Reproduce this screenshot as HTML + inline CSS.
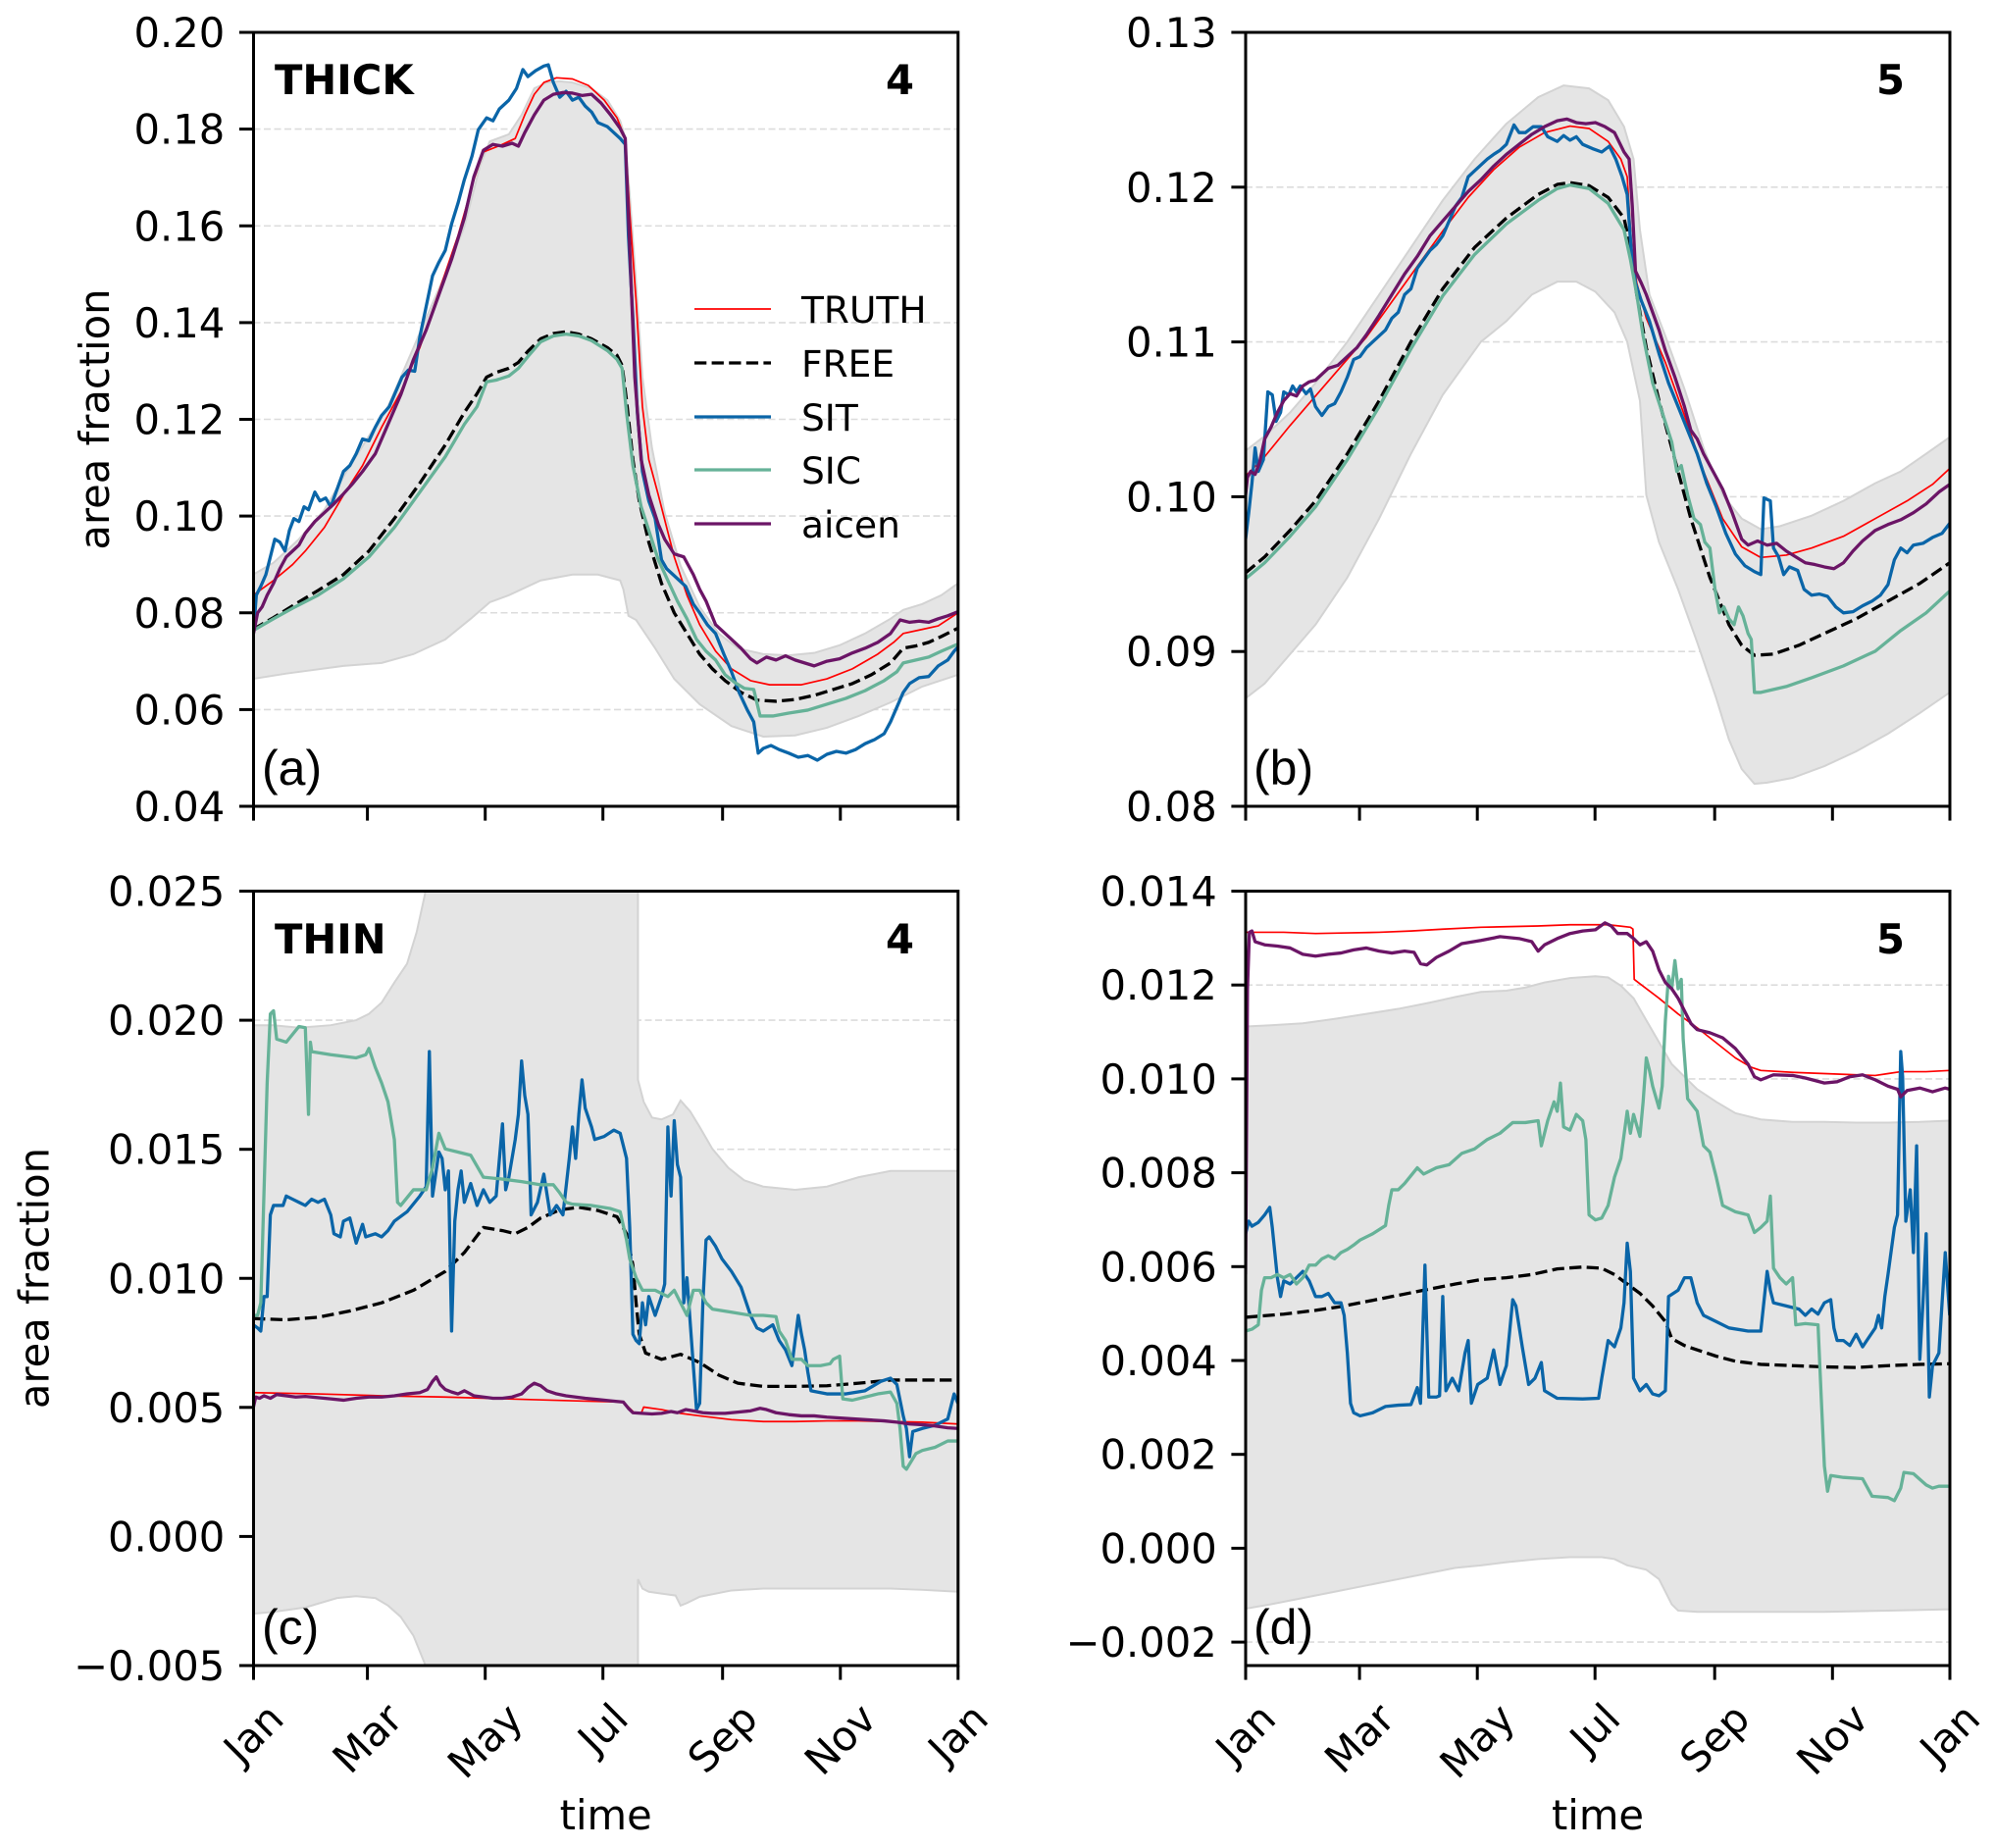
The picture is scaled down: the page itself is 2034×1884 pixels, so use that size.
<!DOCTYPE html>
<html><head><meta charset="utf-8"><style>
html,body{margin:0;padding:0;background:#fff;overflow:hidden}
svg{display:block}
text{font-family:"DejaVu Sans","Liberation Sans",sans-serif;font-size:41.67px;fill:#000}
.b{font-weight:bold}
.pl{font-family:"Liberation Sans","DejaVu Sans",sans-serif;font-size:50px}
.lg{font-size:37.5px}
.band{fill:#e5e5e5;stroke:#d3d3d3;stroke-width:2;vector-effect:non-scaling-stroke}
.ln{fill:none;stroke-linejoin:round;stroke-linecap:butt;vector-effect:non-scaling-stroke}
.tr{stroke:#ff0000;stroke-width:1.7}
.fr{stroke:#000;stroke-width:3.3;stroke-dasharray:12.3 5.3}
.sit{stroke:#0a65a8;stroke-width:3.3}
.sic{stroke:#66b298;stroke-width:3.3}
.ai{stroke:#6b1566;stroke-width:3.3}
.grid{stroke:#dcdcdc;stroke-width:1.6;stroke-dasharray:7 3.5}
.ax{fill:none;stroke:#000;stroke-width:3}
.tk{stroke:#000;stroke-width:3}
</style></head><body>
<svg width="2034" height="1884" viewBox="0 0 2034 1884" xmlns="http://www.w3.org/2000/svg">
<defs>
<clipPath id="ca"><rect x="258.5" y="33" width="718.3" height="789"/></clipPath>
<clipPath id="cb"><rect x="1270" y="33" width="718" height="789"/></clipPath>
<clipPath id="cc"><rect x="258.5" y="908.5" width="718.3" height="789.5"/></clipPath>
<clipPath id="cd"><rect x="1270" y="908.5" width="718" height="789.5"/></clipPath>
</defs>

<!-- ================= PANEL A ================= -->
<g class="grid">
<line x1="258.5" x2="976.8" y1="131.6" y2="131.6"/><line x1="258.5" x2="976.8" y1="230.25" y2="230.25"/>
<line x1="258.5" x2="976.8" y1="328.9" y2="328.9"/><line x1="258.5" x2="976.8" y1="427.5" y2="427.5"/>
<line x1="258.5" x2="976.8" y1="526.1" y2="526.1"/><line x1="258.5" x2="976.8" y1="624.75" y2="624.75"/>
<line x1="258.5" x2="976.8" y1="723.4" y2="723.4"/>
</g>
<g clip-path="url(#ca)"><g transform="scale(0.648508,0.600781)">
<polygon class="band" points="398,975 430,955 470,915 510,865 545,800 580,740 610,690 640,615 670,540 700,465 730,385 755,280 770,240 800,228 820,195 840,150 860,140 880,138 900,140 930,150 955,170 975,205 982,230 990,330 1000,480 1010,640 1025,760 1045,870 1070,960 1100,1030 1130,1075 1160,1100 1200,1110 1240,1112 1280,1108 1320,1095 1360,1075 1400,1050 1420,1035 1450,1025 1480,1010 1506,990 1506,1145 1450,1165 1400,1192 1350,1215 1300,1235 1250,1248 1200,1250 1150,1232 1100,1195 1060,1152 1030,1100 1000,1052 988,1045 980,1000 975,985 940,975 900,975 850,985 800,1010 770,1022 740,1050 700,1085 650,1110 600,1125 540,1130 450,1143 398,1152"/>
<polyline class="ln tr" points="398,1010 430,985 460,958 480,935 510,895 540,840 570,790 600,725 630,665 660,590 690,495 720,400 745,305 760,258 790,245 810,235 825,195 840,160 855,140 875,132 900,134 925,145 950,170 970,200 983,235 990,360 1000,510 1010,690 1020,780 1035,840 1060,945 1080,1010 1100,1060 1125,1105 1150,1135 1180,1155 1210,1162 1260,1162 1300,1152 1340,1135 1380,1110 1405,1090 1420,1075 1450,1068 1475,1062 1506,1040"/>
<polyline class="ln fr" points="398,1068 430,1048 460,1028 500,1002 540,975 580,935 620,880 660,820 700,755 730,700 750,668 765,640 780,632 800,625 815,615 830,596 850,575 870,566 890,563 910,567 930,575 955,590 970,603 978,620 985,680 995,780 1005,850 1020,920 1040,990 1060,1040 1080,1075 1100,1110 1120,1135 1140,1155 1165,1175 1190,1188 1220,1190 1250,1187 1280,1180 1310,1170 1340,1160 1370,1145 1400,1125 1420,1100 1440,1096 1460,1090 1480,1080 1506,1066"/>
<polyline class="ln sit" points="398,1080 403,1010 410,995 418,975 425,945 432,915 440,920 448,935 455,900 462,880 470,885 478,860 485,865 495,835 503,850 512,845 520,860 530,830 540,800 550,790 560,770 570,745 580,748 590,725 600,705 612,690 622,665 632,640 642,628 652,630 660,572 670,520 680,468 690,445 700,425 710,380 720,345 730,305 742,265 752,220 765,200 775,205 785,185 800,170 812,150 822,118 830,130 842,120 855,112 862,110 870,140 880,165 890,155 900,170 910,165 920,180 930,190 940,208 955,215 965,225 975,235 983,245 988,400 995,540 1002,700 1010,800 1020,850 1030,880 1040,950 1048,965 1058,975 1068,985 1078,995 1090,1025 1100,1040 1112,1060 1125,1075 1138,1110 1150,1140 1162,1175 1175,1205 1185,1225 1192,1278 1200,1270 1212,1265 1225,1272 1240,1278 1255,1285 1270,1282 1285,1290 1300,1280 1315,1275 1330,1278 1345,1272 1360,1262 1375,1255 1390,1245 1400,1225 1410,1200 1420,1175 1430,1160 1445,1150 1460,1148 1475,1130 1490,1120 1500,1105 1506,1098"/>
<polyline class="ln sic" points="398,1070 430,1050 460,1032 500,1010 540,982 580,945 620,895 660,835 700,775 730,720 750,690 765,648 780,645 800,638 815,625 830,605 850,580 870,570 890,567 910,570 930,578 955,595 970,610 978,625 985,700 995,790 1008,860 1020,900 1035,950 1050,985 1065,1020 1080,1050 1095,1085 1110,1105 1125,1120 1140,1145 1155,1158 1170,1168 1185,1170 1195,1215 1215,1215 1240,1210 1270,1205 1300,1195 1330,1185 1360,1172 1390,1155 1410,1140 1420,1125 1440,1120 1460,1115 1480,1105 1506,1093"/>
<polyline class="ln ai" points="398,1078 405,1040 412,1030 420,1010 430,990 440,965 450,945 460,935 470,925 480,905 495,885 510,870 525,855 540,838 555,820 570,800 590,770 610,720 630,670 650,610 670,560 690,500 710,440 730,370 745,300 760,255 775,245 790,248 805,243 815,248 825,225 840,195 855,170 870,160 885,157 900,158 915,162 930,160 945,175 960,195 975,218 983,235 990,420 998,640 1008,780 1020,840 1035,890 1045,915 1060,940 1075,945 1090,975 1100,1000 1110,1020 1125,1060 1140,1075 1150,1085 1165,1100 1180,1118 1190,1125 1205,1115 1220,1120 1235,1113 1250,1120 1265,1125 1280,1130 1300,1122 1320,1118 1340,1108 1360,1100 1380,1090 1400,1075 1415,1052 1430,1056 1445,1054 1460,1056 1475,1050 1490,1045 1506,1038"/>
</g></g>
<rect class="ax" x="258.5" y="33" width="718.3" height="789"/>
<g class="tk">
<line x1="243.9" x2="258.5" y1="33" y2="33"/><line x1="243.9" x2="258.5" y1="131.6" y2="131.6"/><line x1="243.9" x2="258.5" y1="230.25" y2="230.25"/><line x1="243.9" x2="258.5" y1="328.9" y2="328.9"/><line x1="243.9" x2="258.5" y1="427.5" y2="427.5"/><line x1="243.9" x2="258.5" y1="526.1" y2="526.1"/><line x1="243.9" x2="258.5" y1="624.75" y2="624.75"/><line x1="243.9" x2="258.5" y1="723.4" y2="723.4"/><line x1="243.9" x2="258.5" y1="822" y2="822"/>
<line x1="258.5" x2="258.5" y1="822" y2="836.6"/><line x1="374.6" x2="374.6" y1="822" y2="836.6"/><line x1="494.7" x2="494.7" y1="822" y2="836.6"/><line x1="614.7" x2="614.7" y1="822" y2="836.6"/><line x1="736.7" x2="736.7" y1="822" y2="836.6"/><line x1="856.8" x2="856.8" y1="822" y2="836.6"/><line x1="976.8" x2="976.8" y1="822" y2="836.6"/>
</g>
<g text-anchor="end">
<text x="229.3" y="48">0.20</text><text x="229.3" y="146.6">0.18</text><text x="229.3" y="245.3">0.16</text><text x="229.3" y="343.9">0.14</text><text x="229.3" y="442.5">0.12</text><text x="229.3" y="541.1">0.10</text><text x="229.3" y="639.8">0.08</text><text x="229.3" y="738.4">0.06</text><text x="229.3" y="837">0.04</text>
</g>
<text transform="translate(111,427.5) rotate(-90)" text-anchor="middle">area fraction</text>
<text class="b" x="280" y="96">THICK</text>
<text class="b" x="932" y="96" text-anchor="end">4</text>
<text class="pl" x="267" y="800">(a)</text>
<!-- legend -->
<line x1="708" x2="786" y1="315" y2="315" stroke="#ff0000" stroke-width="1.7"/>
<line x1="708" x2="786" y1="370" y2="370" stroke="#000" stroke-width="3.3" stroke-dasharray="12.3 5.3"/>
<line x1="708" x2="786" y1="425" y2="425" stroke="#0a65a8" stroke-width="3.3"/>
<line x1="708" x2="786" y1="479" y2="479" stroke="#66b298" stroke-width="3.3"/>
<line x1="708" x2="786" y1="534" y2="534" stroke="#6b1566" stroke-width="3.3"/>
<g class="lg"><text class="lg" x="817" y="329">TRUTH</text><text class="lg" x="817" y="384">FREE</text><text class="lg" x="817" y="439">SIT</text><text class="lg" x="817" y="493">SIC</text><text class="lg" x="817" y="548">aicen</text></g>

<!-- ================= PANEL B ================= -->
<g class="grid">
<line x1="1270" x2="1988" y1="190.8" y2="190.8"/><line x1="1270" x2="1988" y1="348.6" y2="348.6"/><line x1="1270" x2="1988" y1="506.4" y2="506.4"/><line x1="1270" x2="1988" y1="664.2" y2="664.2"/>
</g>
<g clip-path="url(#cb)"><g transform="translate(1017,0) scale(0.648508,0.600781)">
<polygon class="band" points="390,765 420,740 460,700 500,650 550,580 600,500 650,420 700,340 750,270 800,210 850,165 890,145 930,150 960,170 985,215 1000,270 1010,390 1025,500 1050,570 1080,660 1110,760 1140,840 1170,880 1200,898 1230,893 1280,875 1330,850 1380,820 1420,800 1460,770 1497,742 1497,1175 1450,1210 1400,1245 1350,1275 1300,1300 1250,1320 1210,1328 1190,1330 1170,1305 1150,1255 1130,1185 1100,1090 1070,1000 1040,920 1020,840 1010,680 990,580 970,530 940,495 910,478 880,478 840,500 800,545 760,580 700,670 650,770 600,880 550,980 500,1060 460,1110 420,1160 390,1185"/>
<polyline class="ln tr" points="390,808 420,775 460,722 500,672 540,622 580,572 620,512 660,452 700,392 740,335 780,288 820,250 860,225 900,214 930,218 960,240 980,270 990,300 997,420 1005,480 1020,540 1050,615 1080,705 1110,800 1140,880 1170,928 1200,946 1240,942 1280,930 1330,910 1380,880 1430,850 1470,822 1497,795"/>
<polyline class="ln fr" points="390,972 420,945 460,900 500,850 550,770 600,680 650,580 700,490 750,420 800,370 850,330 880,313 900,310 930,315 960,335 985,370 995,420 1005,500 1020,590 1040,680 1060,760 1090,880 1120,980 1150,1060 1170,1095 1190,1112 1220,1110 1260,1095 1300,1075 1350,1050 1400,1020 1450,990 1497,955"/>
<polyline class="ln sit" points="390,915 395,870 400,820 405,760 410,800 418,780 425,665 432,670 438,715 445,700 450,665 458,670 464,655 470,665 476,655 485,668 492,660 500,690 510,705 520,690 530,685 540,665 550,640 560,610 570,605 580,590 590,580 600,570 610,560 620,540 630,530 640,500 650,490 660,455 670,440 680,425 690,415 700,400 710,375 720,350 730,335 740,300 750,290 760,280 770,270 780,262 790,255 800,245 812,212 820,225 830,225 842,215 855,215 865,232 880,240 890,230 900,238 910,232 920,245 935,252 950,258 962,248 972,270 982,300 990,330 996,420 1003,480 1012,510 1025,545 1040,600 1055,650 1070,690 1085,730 1100,770 1115,820 1130,860 1145,905 1160,940 1175,960 1190,970 1200,975 1205,845 1215,850 1220,930 1228,945 1236,975 1245,962 1258,968 1268,1000 1280,1010 1292,1008 1305,1012 1318,1030 1330,1040 1345,1038 1360,1028 1375,1020 1388,1010 1400,992 1410,950 1420,930 1430,938 1440,925 1455,922 1470,912 1485,905 1497,888"/>
<polyline class="ln sic" points="390,982 420,955 460,910 500,860 550,780 600,690 650,592 700,502 750,432 800,380 850,340 880,320 900,314 930,320 960,345 985,390 995,440 1005,500 1015,570 1030,650 1045,700 1060,750 1068,800 1075,790 1085,840 1095,880 1105,890 1112,920 1120,930 1128,1000 1135,1040 1142,1030 1150,1050 1158,1060 1165,1030 1172,1045 1180,1075 1185,1085 1190,1175 1200,1175 1240,1165 1280,1150 1330,1130 1380,1105 1420,1070 1460,1040 1497,1003"/>
<polyline class="ln ai" points="390,840 393,810 398,800 405,805 412,785 420,745 430,725 440,700 450,680 460,668 470,672 480,655 490,648 500,645 510,635 520,625 535,620 550,605 565,590 580,568 600,535 620,500 640,465 660,435 680,400 700,375 720,350 740,325 760,305 780,282 800,262 820,245 840,228 860,215 880,205 895,202 910,208 925,210 940,208 955,215 970,225 985,258 993,270 998,350 1003,460 1012,480 1020,500 1030,530 1040,560 1050,595 1065,640 1080,690 1090,730 1100,745 1110,770 1125,800 1140,830 1155,870 1170,915 1180,925 1195,918 1210,925 1225,922 1240,935 1255,945 1270,955 1285,958 1300,962 1315,965 1330,955 1345,935 1360,918 1380,900 1400,890 1420,882 1440,870 1460,855 1480,835 1497,822"/>
</g></g>
<rect class="ax" x="1270" y="33" width="718" height="789"/>
<g class="tk">
<line x1="1255.4" x2="1270" y1="33" y2="33"/><line x1="1255.4" x2="1270" y1="190.8" y2="190.8"/><line x1="1255.4" x2="1270" y1="348.6" y2="348.6"/><line x1="1255.4" x2="1270" y1="506.4" y2="506.4"/><line x1="1255.4" x2="1270" y1="664.2" y2="664.2"/><line x1="1255.4" x2="1270" y1="822" y2="822"/>
<line x1="1270" x2="1270" y1="822" y2="836.6"/><line x1="1386.1" x2="1386.1" y1="822" y2="836.6"/><line x1="1506.2" x2="1506.2" y1="822" y2="836.6"/><line x1="1626.2" x2="1626.2" y1="822" y2="836.6"/><line x1="1748.2" x2="1748.2" y1="822" y2="836.6"/><line x1="1868.3" x2="1868.3" y1="822" y2="836.6"/><line x1="1988" x2="1988" y1="822" y2="836.6"/>
</g>
<g text-anchor="end">
<text x="1240.8" y="48">0.13</text><text x="1240.8" y="205.8">0.12</text><text x="1240.8" y="363.6">0.11</text><text x="1240.8" y="521.4">0.10</text><text x="1240.8" y="679.2">0.09</text><text x="1240.8" y="837">0.08</text>
</g>
<text class="b" x="1942" y="96" text-anchor="end">5</text>
<text class="pl" x="1278" y="800">(b)</text>

<!-- ================= PANEL C ================= -->
<g class="grid">
<line x1="258.5" x2="976.8" y1="1040.1" y2="1040.1"/><line x1="258.5" x2="976.8" y1="1171.7" y2="1171.7"/><line x1="258.5" x2="976.8" y1="1303.25" y2="1303.25"/><line x1="258.5" x2="976.8" y1="1434.8" y2="1434.8"/><line x1="258.5" x2="976.8" y1="1566.4" y2="1566.4"/>
</g>
<g clip-path="url(#cc)"><g transform="translate(0,880) scale(0.648508,0.640287)">
<polygon class="band" points="398,258 430,258 470,262 520,258 560,250 580,240 600,222 620,190 640,160 655,110 668,50 675,-50 1003,-50 1003,345 1012,380 1025,405 1040,408 1058,400 1070,378 1085,395 1100,420 1120,455 1145,485 1170,505 1200,515 1250,520 1300,515 1350,500 1400,490 1450,490 1506,490 1506,1160 1450,1157 1400,1155 1300,1155 1200,1155 1150,1158 1100,1168 1080,1178 1070,1182 1062,1166 1040,1163 1020,1160 1010,1155 1003,1140 1003,1350 675,1350 668,1275 650,1230 630,1200 610,1182 590,1170 560,1167 530,1170 480,1185 430,1192 398,1195"/>
<polyline class="ln tr" points="398,843 500,845 600,848 700,850 800,853 900,856 980,858 988,866 998,876 1008,876 1012,866 1040,870 1070,876 1100,880 1150,886 1200,889 1250,889 1300,888 1350,888 1400,889 1450,890 1506,893"/>
<polyline class="ln fr" points="398,725 450,727 500,723 550,713 600,700 650,680 700,650 730,620 760,580 790,585 810,590 830,580 850,565 880,552 910,548 940,553 970,563 985,590 995,640 1000,700 1005,750 1015,780 1040,790 1070,782 1100,795 1130,815 1160,828 1200,833 1250,833 1300,832 1350,828 1400,823 1450,823 1506,823"/>
<polyline class="ln sit" points="398,735 405,740 410,745 415,690 420,690 425,560 430,545 445,545 450,530 460,535 470,540 480,545 490,535 500,540 510,535 520,560 525,590 535,595 540,570 550,565 560,605 570,575 575,595 590,590 600,595 610,585 620,570 640,555 660,530 670,515 675,300 680,530 690,460 695,470 700,520 705,490 710,745 715,570 720,520 725,490 730,540 740,510 750,545 760,520 770,540 780,530 790,415 795,520 800,500 810,440 815,400 820,315 825,370 830,400 835,560 845,540 855,495 865,560 875,545 885,560 895,470 900,420 905,470 910,400 915,345 920,390 930,420 935,440 950,435 965,425 975,430 985,470 990,580 995,750 1000,760 1005,765 1010,700 1015,735 1020,690 1030,720 1040,690 1045,670 1050,420 1055,530 1060,410 1065,480 1070,500 1075,700 1080,660 1090,800 1095,870 1100,860 1105,700 1110,600 1115,595 1125,610 1135,630 1150,650 1165,675 1170,690 1180,720 1190,740 1200,745 1215,735 1225,760 1235,775 1245,800 1255,720 1260,750 1265,775 1270,810 1275,840 1300,845 1330,845 1360,840 1385,825 1400,820 1410,830 1420,880 1425,900 1430,945 1435,905 1450,900 1470,895 1490,885 1500,845 1506,860"/>
<polyline class="ln sic" points="398,720 405,720 410,700 420,350 425,240 430,235 435,280 450,285 470,260 480,262 485,400 488,285 490,300 520,305 560,310 575,305 580,295 590,325 600,350 610,380 620,440 625,540 630,545 650,520 670,520 680,485 690,430 700,455 720,460 740,465 760,500 790,503 820,507 850,512 870,512 880,525 890,540 900,543 930,545 960,550 975,555 985,600 990,630 1000,660 1010,680 1030,680 1050,690 1060,680 1070,700 1080,720 1090,680 1100,680 1110,700 1120,710 1150,715 1180,720 1200,720 1220,722 1225,745 1235,760 1245,790 1260,790 1270,800 1290,800 1305,797 1310,790 1320,785 1325,853 1340,855 1360,850 1380,845 1400,842 1410,860 1415,900 1420,960 1425,965 1440,940 1450,935 1470,930 1490,920 1506,920"/>
<polyline class="ln ai" points="398,868 402,850 408,852 415,848 425,852 435,846 450,848 465,850 480,849 500,851 520,853 540,855 560,852 580,850 600,850 620,848 640,845 660,843 672,838 680,825 686,818 692,830 700,838 710,842 720,845 730,840 745,848 760,850 775,852 790,852 805,850 820,845 830,835 840,828 850,832 860,840 875,845 890,848 905,850 920,852 940,854 960,856 980,858 988,868 995,875 1010,876 1025,877 1040,876 1055,873 1065,875 1078,870 1090,872 1105,875 1120,876 1140,876 1160,874 1180,872 1195,868 1205,870 1220,875 1240,878 1260,880 1280,880 1300,882 1330,884 1360,886 1390,888 1410,890 1430,893 1450,894 1470,896 1490,899 1506,900"/>
</g></g>
<rect class="ax" x="258.5" y="908.5" width="718.3" height="789.5"/>
<g class="tk">
<line x1="243.9" x2="258.5" y1="908.5" y2="908.5"/><line x1="243.9" x2="258.5" y1="1040.1" y2="1040.1"/><line x1="243.9" x2="258.5" y1="1171.7" y2="1171.7"/><line x1="243.9" x2="258.5" y1="1303.25" y2="1303.25"/><line x1="243.9" x2="258.5" y1="1434.8" y2="1434.8"/><line x1="243.9" x2="258.5" y1="1566.4" y2="1566.4"/><line x1="243.9" x2="258.5" y1="1698" y2="1698"/>
<line x1="258.5" x2="258.5" y1="1698" y2="1712.6"/><line x1="374.6" x2="374.6" y1="1698" y2="1712.6"/><line x1="494.7" x2="494.7" y1="1698" y2="1712.6"/><line x1="614.7" x2="614.7" y1="1698" y2="1712.6"/><line x1="736.7" x2="736.7" y1="1698" y2="1712.6"/><line x1="856.8" x2="856.8" y1="1698" y2="1712.6"/><line x1="976.8" x2="976.8" y1="1698" y2="1712.6"/>
</g>
<g text-anchor="end">
<text x="229.3" y="923.5">0.025</text><text x="229.3" y="1055.1">0.020</text><text x="229.3" y="1186.7">0.015</text><text x="229.3" y="1318.3">0.010</text><text x="229.3" y="1449.8">0.005</text><text x="229.3" y="1581.4">0.000</text><text x="229.3" y="1713">−0.005</text>
</g>
<g text-anchor="middle">
<text x="258.5" y="1767.1" dy="14.4" transform="rotate(-45 258.5 1767.1)">Jan</text>
<text x="374.6" y="1772.1" dy="14.4" transform="rotate(-45 374.6 1772.1)">Mar</text>
<text x="494.7" y="1774.8" dy="14.4" transform="rotate(-45 494.7 1774.8)">May</text>
<text x="614.7" y="1762.1" dy="14.4" transform="rotate(-45 614.7 1762.1)">Jul</text>
<text x="736.7" y="1772.1" dy="14.4" transform="rotate(-45 736.7 1772.1)">Sep</text>
<text x="856.8" y="1773.1" dy="14.4" transform="rotate(-45 856.8 1773.1)">Nov</text>
<text x="976.8" y="1767.1" dy="14.4" transform="rotate(-45 976.8 1767.1)">Jan</text>
<text x="617.7" y="1865">time</text>
</g>
<text transform="translate(49.5,1303) rotate(-90)" text-anchor="middle">area fraction</text>
<text class="b" x="280" y="972">THIN</text>
<text class="b" x="932" y="972" text-anchor="end">4</text>
<text class="pl" x="267" y="1676">(c)</text>

<!-- ================= PANEL D ================= -->
<g class="grid">
<line x1="1270" x2="1988" y1="1004.2" y2="1004.2"/><line x1="1270" x2="1988" y1="1099.9" y2="1099.9"/><line x1="1270" x2="1988" y1="1195.6" y2="1195.6"/><line x1="1270" x2="1988" y1="1291.3" y2="1291.3"/><line x1="1270" x2="1988" y1="1387" y2="1387"/><line x1="1270" x2="1988" y1="1482.7" y2="1482.7"/><line x1="1270" x2="1988" y1="1578.4" y2="1578.4"/><line x1="1270" x2="1988" y1="1674.1" y2="1674.1"/>
</g>
<g clip-path="url(#cd)"><g transform="translate(1017,880) scale(0.648508,0.640287)">
<polygon class="band" points="390,260 430,258 480,255 530,248 580,240 630,232 680,222 720,213 760,205 800,203 830,198 860,190 900,183 940,180 960,182 980,195 1000,215 1020,250 1040,285 1060,320 1080,340 1100,360 1130,380 1160,398 1200,408 1250,412 1300,412 1350,413 1400,413 1450,412 1497,410 1497,1188 1400,1190 1300,1192 1200,1192 1100,1192 1070,1190 1060,1180 1050,1160 1040,1140 1020,1125 990,1118 970,1108 950,1105 900,1105 850,1108 800,1113 760,1118 720,1122 680,1130 630,1140 580,1150 530,1160 480,1170 430,1180 390,1187"/>
<polyline class="ln tr" points="390,110 450,110 500,112 550,111 600,110 650,108 700,105 760,102 850,100 900,98 960,98 995,102 999,105 1001,185 1010,192 1040,215 1070,240 1100,262 1130,286 1160,310 1185,325 1200,330 1250,333 1300,335 1350,337 1380,338 1400,335 1420,332 1460,332 1497,330"/>
<polyline class="ln fr" points="390,723 450,718 500,712 540,706 580,698 620,690 680,678 720,670 760,663 800,660 840,655 880,646 920,643 950,645 970,655 990,670 1010,685 1030,705 1050,730 1060,757 1080,768 1100,775 1130,785 1160,793 1200,798 1250,800 1300,802 1350,803 1400,800 1450,798 1497,797"/>
<polyline class="ln sit" points="390,590 395,570 400,578 410,572 420,560 428,548 432,580 436,620 440,660 445,690 450,665 460,670 470,660 480,650 490,665 500,690 510,690 520,685 530,700 540,700 545,720 550,780 555,860 560,875 570,880 590,875 610,865 630,863 650,862 660,835 665,860 672,640 678,850 690,850 695,848 700,690 705,840 715,820 725,840 735,780 740,760 745,860 755,830 770,820 780,775 790,830 800,800 810,695 815,705 825,770 835,830 845,820 855,795 860,840 880,852 920,853 945,852 950,820 960,760 970,770 980,740 985,700 990,605 995,650 1000,820 1010,840 1020,830 1030,845 1040,848 1050,840 1055,690 1070,680 1080,660 1090,660 1100,700 1110,720 1130,730 1150,740 1180,745 1200,745 1210,650 1215,680 1220,700 1240,705 1260,710 1270,720 1280,710 1290,718 1300,700 1310,695 1315,740 1320,760 1330,760 1340,768 1350,750 1360,770 1380,740 1385,720 1390,740 1395,690 1400,655 1410,580 1415,560 1420,300 1423,340 1428,570 1435,520 1440,620 1445,450 1450,790 1455,700 1460,590 1465,850 1470,800 1480,780 1490,620 1497,720"/>
<polyline class="ln sic" points="390,745 400,742 410,735 415,680 420,660 430,660 440,655 450,660 460,655 470,670 480,660 490,640 500,640 510,630 520,625 530,630 540,620 550,615 560,608 570,600 590,590 610,577 615,545 620,520 630,520 640,510 660,485 670,495 690,485 710,480 730,462 750,455 770,440 790,430 810,413 830,413 850,410 855,450 865,410 875,380 880,395 885,350 890,420 900,425 910,400 920,410 925,440 930,560 940,568 950,565 960,545 970,500 980,470 990,395 995,430 1000,400 1010,435 1015,380 1020,310 1025,330 1030,355 1040,390 1045,355 1050,250 1055,180 1060,200 1065,155 1070,200 1075,185 1078,280 1085,375 1100,395 1110,450 1120,460 1130,500 1140,545 1160,555 1180,560 1190,588 1200,580 1210,570 1215,530 1220,645 1230,660 1240,670 1250,660 1255,735 1270,733 1290,735 1295,850 1300,960 1305,1000 1310,975 1330,978 1360,980 1375,1008 1400,1010 1410,1015 1420,995 1425,970 1440,972 1460,990 1470,995 1480,992 1497,992"/>
<polyline class="ln ai" points="390,655 393,200 396,110 400,108 405,125 420,130 440,132 460,135 480,145 500,148 520,145 540,143 560,138 580,135 600,140 620,143 640,140 655,142 665,160 675,162 690,150 710,140 730,128 760,123 790,117 820,120 840,125 850,140 860,130 880,120 900,112 920,108 940,106 955,95 965,100 975,112 990,112 1000,120 1010,130 1020,125 1030,140 1040,170 1050,190 1060,200 1070,215 1080,235 1090,255 1100,265 1120,270 1140,278 1160,295 1180,320 1190,340 1200,345 1220,337 1250,338 1270,342 1300,350 1320,348 1340,340 1360,337 1380,345 1400,355 1415,360 1420,372 1430,362 1450,358 1470,364 1490,358 1497,360"/>
</g></g>
<rect class="ax" x="1270" y="908.5" width="718" height="789.5"/>
<g class="tk">
<line x1="1255.4" x2="1270" y1="908.5" y2="908.5"/><line x1="1255.4" x2="1270" y1="1004.2" y2="1004.2"/><line x1="1255.4" x2="1270" y1="1099.9" y2="1099.9"/><line x1="1255.4" x2="1270" y1="1195.6" y2="1195.6"/><line x1="1255.4" x2="1270" y1="1291.3" y2="1291.3"/><line x1="1255.4" x2="1270" y1="1387" y2="1387"/><line x1="1255.4" x2="1270" y1="1482.7" y2="1482.7"/><line x1="1255.4" x2="1270" y1="1578.4" y2="1578.4"/><line x1="1255.4" x2="1270" y1="1674.1" y2="1674.1"/>
<line x1="1270" x2="1270" y1="1698" y2="1712.6"/><line x1="1386.1" x2="1386.1" y1="1698" y2="1712.6"/><line x1="1506.2" x2="1506.2" y1="1698" y2="1712.6"/><line x1="1626.2" x2="1626.2" y1="1698" y2="1712.6"/><line x1="1748.2" x2="1748.2" y1="1698" y2="1712.6"/><line x1="1868.3" x2="1868.3" y1="1698" y2="1712.6"/><line x1="1988" x2="1988" y1="1698" y2="1712.6"/>
</g>
<g text-anchor="end">
<text x="1240.8" y="923.5">0.014</text><text x="1240.8" y="1019.2">0.012</text><text x="1240.8" y="1114.9">0.010</text><text x="1240.8" y="1210.6">0.008</text><text x="1240.8" y="1306.3">0.006</text><text x="1240.8" y="1402">0.004</text><text x="1240.8" y="1497.7">0.002</text><text x="1240.8" y="1593.4">0.000</text><text x="1240.8" y="1689.1">−0.002</text>
</g>
<g text-anchor="middle">
<text x="1270" y="1767.1" dy="14.4" transform="rotate(-45 1270 1767.1)">Jan</text>
<text x="1386.1" y="1772.1" dy="14.4" transform="rotate(-45 1386.1 1772.1)">Mar</text>
<text x="1506.2" y="1774.8" dy="14.4" transform="rotate(-45 1506.2 1774.8)">May</text>
<text x="1626.2" y="1762.1" dy="14.4" transform="rotate(-45 1626.2 1762.1)">Jul</text>
<text x="1748.2" y="1772.1" dy="14.4" transform="rotate(-45 1748.2 1772.1)">Sep</text>
<text x="1868.3" y="1773.1" dy="14.4" transform="rotate(-45 1868.3 1773.1)">Nov</text>
<text x="1988" y="1767.1" dy="14.4" transform="rotate(-45 1988 1767.1)">Jan</text>
<text x="1629" y="1865">time</text>
</g>
<text class="b" x="1942" y="972" text-anchor="end">5</text>
<text class="pl" x="1278" y="1676">(d)</text>
</svg>
</body></html>
